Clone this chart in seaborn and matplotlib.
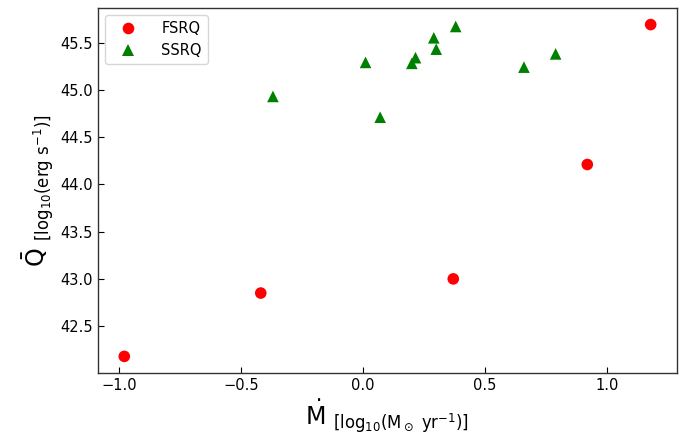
import matplotlib
matplotlib.use("Agg")
import matplotlib.pyplot as plt
import seaborn as sns
import pandas as pd

# Accretion rate vs. mean jet power for the two quasar classes
fsrq_mdot = [-0.98, -0.42, 0.37, 0.92, 1.18]
fsrq_q = [42.18, 42.85, 43.00, 44.21, 45.69]

ssrq_mdot = [-0.37, 0.01, 0.07, 0.20, 0.215, 0.29, 0.30, 0.38, 0.66, 0.79]
ssrq_q = [44.93, 45.29, 44.71, 45.28, 45.34, 45.55, 45.43, 45.67, 45.24, 45.38]

classes = ["FSRQ", "SSRQ"]

df = pd.DataFrame({
    "mdot": fsrq_mdot + ssrq_mdot,
    "q": fsrq_q + ssrq_q,
    "cls": [classes[0]] * len(fsrq_mdot) + [classes[1]] * len(ssrq_mdot),
})

sns.set_style("white")
plt.rcParams["font.family"] = ["DejaVu Sans"]
plt.rcParams["text.color"] = "black"
plt.rcParams["axes.labelcolor"] = "black"

fig = plt.figure(figsize=(6.88, 4.37), dpi=100)
ax = fig.add_axes([0.1424, 0.1465, 0.8416, 0.8352])

sns.scatterplot(
    data=df, x="mdot", y="q", hue="cls", style="cls",
    hue_order=classes, style_order=classes,
    palette={"FSRQ": "red", "SSRQ": "green"},
    markers={"FSRQ": "o", "SSRQ": "^"},
    s=70, linewidth=0, ax=ax,
)

ax.set_xticks([-1.0, -0.5, 0.0, 0.5, 1.0])
ax.set_yticks([42.5, 43.0, 43.5, 44.0, 44.5, 45.0, 45.5])
ax.tick_params(direction="in", length=4.5, width=0.8, labelsize=10.5,
               colors="black", left=True, bottom=True)
for sp in ax.spines.values():
    sp.set_color("#333333")
    sp.set_linewidth(1.0)

ax.set_xlabel(r"$\dot{\rm M}$ $_{\rm [log_{10}(M_\odot\ yr^{-1})]}$", fontsize=17, labelpad=3)
ax.set_ylabel(r"$\bar{\rm Q}$ $_{\rm [log_{10}(erg\ s^{-1})]}$", fontsize=17, labelpad=3)

leg = ax.legend(loc="upper left", fontsize=10.5, frameon=True, title=None,
                handlelength=2.3, handletextpad=1.15)
leg.get_frame().set_edgecolor("#cccccc")
for t in leg.get_texts():
    t.set_color("black")

fig.savefig("out.png", dpi=100)
